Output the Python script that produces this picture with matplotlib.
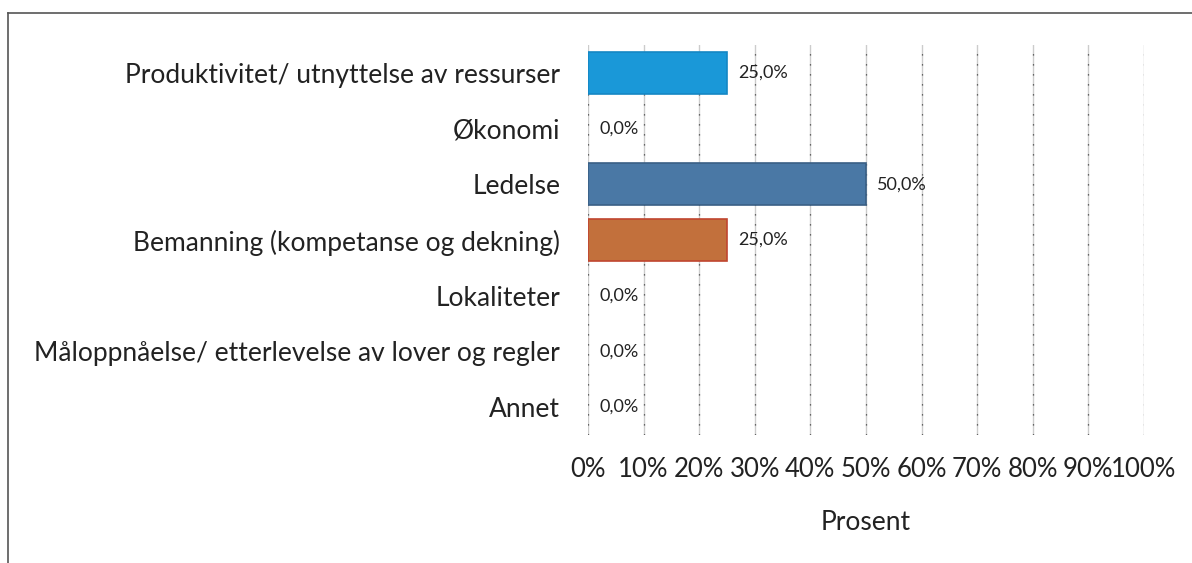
import matplotlib.pyplot as plt
from matplotlib.lines import Line2D
import numpy as np

plt.rcParams['font.family'] = ['Lato', 'DejaVu Sans']

categories = ["Produktivitet/ utnyttelse av ressurser", "Økonomi", "Ledelse",
              "Bemanning (kompetanse og dekning)", "Lokaliteter",
              "Måloppnåelse/ etterlevelse av lover og regler", "Annet"]
values = [25.0, 0.0, 50.0, 25.0, 0.0, 0.0, 0.0]
colors = ["#1a98d8", "#1a98d8", "#4a78a5", "#c2703c", "#c2703c", "#c2703c", "#c2703c"]
edges = ["#1587c4", "#1587c4", "#3a5f85", "#c0452f", "#c0452f", "#c0452f", "#c0452f"]
ticks = np.arange(0, 101, 10)
tick_labels = [f"{t}%" for t in ticks]

fig = plt.figure(figsize=(11.92, 5.63), dpi=100)
ax = fig.add_axes([0.4933, 0.2274, 0.9597 - 0.4933, 0.920 - 0.2274])

y = np.arange(len(categories))
widths = [1.2 if v > 0 else 0 for v in values]
ax.barh(y, values, height=0.75, color=colors, edgecolor=edges, linewidth=widths, zorder=3)

for yi, v in zip(y, values):
    ax.text(v + 2.0, yi, f"{v:.1f}%".replace(".", ","), va="center", ha="left",
            fontsize=13, color="#222222", zorder=4)

ax.set_xlim(0, 100)
ax.set_ylim(len(categories) - 0.5, -0.5)
ax.set_yticks(y)
ax.set_yticklabels(categories, fontsize=19, color="#222222")
ax.set_xticks(ticks)
ax.set_xticklabels(tick_labels, fontsize=18.5, color="#222222")
ax.tick_params(axis="y", length=0, pad=20)
ax.tick_params(axis="x", length=0, pad=16)
ax.set_xlabel("Prosent", fontsize=19, color="#222222", labelpad=20)

for t in ticks:
    ax.axvline(t, color="#cccccc", lw=1.0, zorder=1)
    ax.axvline(t, color="#444444", lw=0.9, ls=(0, (1, 7)), zorder=2)

for s in ax.spines.values():
    s.set_visible(False)

# border of the chart area
fig.add_artist(Line2D([0.0067, 0.0067], [0.0, 0.977], color="#555555", lw=1.2))
fig.add_artist(Line2D([0.0067, 1.0], [0.977, 0.977], color="#555555", lw=1.2))

fig.savefig("out.png", dpi=100)
